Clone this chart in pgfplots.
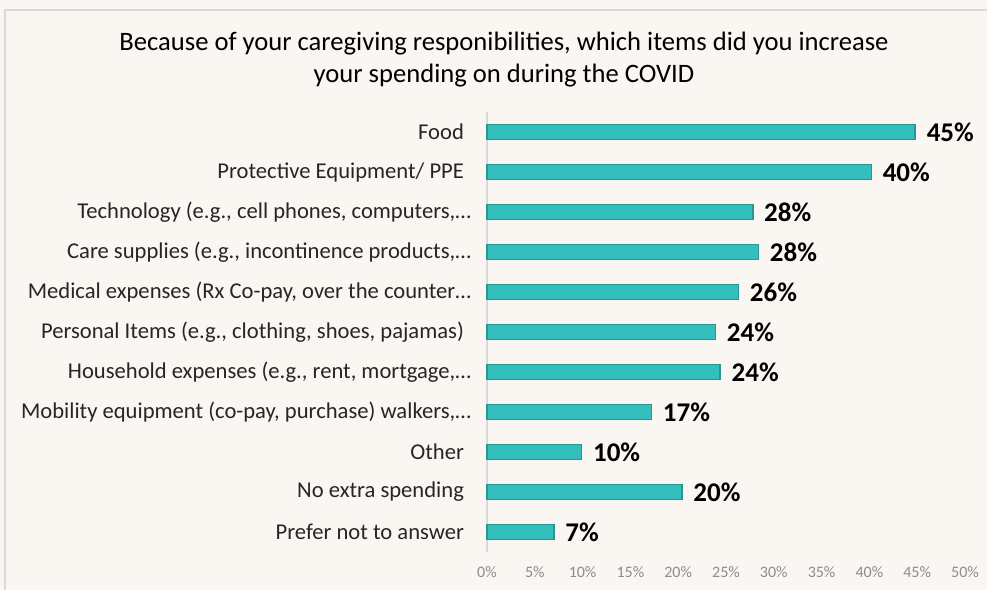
\documentclass[border=0pt]{standalone}
\usepackage{fontspec}
\setmainfont{Carlito}
\usepackage{pgfplots}
\pgfplotsset{compat=1.18}

\definecolor{bg}{RGB}{250,246,242}
\definecolor{framegray}{RGB}{217,217,217}
\definecolor{barfill}{RGB}{52,190,188}
\definecolor{baredge}{RGB}{40,150,147}
\definecolor{tickgray}{RGB}{140,140,140}

\newcommand{\cut}[1]{#1\kern-3.5pt}

\begin{document}
\begin{tikzpicture}
% 1 px of the reference = 0.5pt
\fill[bg] (0,0) rectangle (493.5pt,295pt);
\useasboundingbox (0,0) rectangle (493.5pt,295pt);
\draw[framegray, line width=1.2pt] (2.5pt,0) -- (2.5pt,290pt) -- (493.5pt,290pt);

\node[font=\fontsize{13.3}{15}\selectfont, align=center] at (252pt,265pt)
  {Because of your caregiving responibilities, which items did you increase\\[1pt]
   your spending on during the COVID};

\begin{axis}[
  at={(243.5pt,19pt)}, anchor=south west,
  scale only axis, width=239pt, height=220pt,
  xbar, bar width=7.5pt,
  xmin=0, xmax=50, ymin=-0.5, ymax=10.5,
  xtick={0,5,...,50},
  xticklabel={\pgfmathprintnumber{\tick}\%},
  /pgf/number format/assume math mode=true,
  xticklabel style={font=\fontsize{8}{9}\selectfont, text=tickgray, yshift=-4pt},
  ytick={0,...,10},
  yticklabels={Prefer not to answer, No extra spending, Other,
    {\cut{Mobility equipment (co-pay, purchase) walkers,\ldots}},
    {\cut{Household expenses (e.g., rent, mortgage,\ldots}},
    {Personal Items (e.g., clothing, shoes, pajamas)},
    {\cut{Medical expenses (Rx Co-pay, over the counter\ldots}},
    {\cut{Care supplies (e.g., incontinence products,\ldots}},
    {\cut{Technology (e.g., cell phones, computers,\ldots}},
    {Protective Equipment/ PPE}, Food},
  yticklabel style={font=\fontsize{11.3}{13}\selectfont, text=black!85, xshift=-8pt},
  major tick length=0pt,
  axis lines*=left,
  x axis line style={draw=none},
  y axis line style={draw=framegray, line width=1.2pt},
  axis background/.style={fill=bg},
  point meta=explicit symbolic,
  nodes near coords={\pgfplotspointmeta},
  every node near coord/.append style={font=\fontsize{13.5}{15}\selectfont\bfseries,
    text=black, anchor=west, xshift=2pt},
  clip=false,
]
\addplot[fill=barfill, draw=baredge, line width=0.8pt] coordinates {
  (7.0,0) [7\%]
  (20.4,1) [20\%]
  (9.9,2) [10\%]
  (17.2,3) [17\%]
  (24.4,4) [24\%]
  (23.9,5) [24\%]
  (26.3,6) [26\%]
  (28.4,7) [28\%]
  (27.8,8) [28\%]
  (40.2,9) [40\%]
  (44.8,10) [45\%]
};
\end{axis}
\end{tikzpicture}
\end{document}
